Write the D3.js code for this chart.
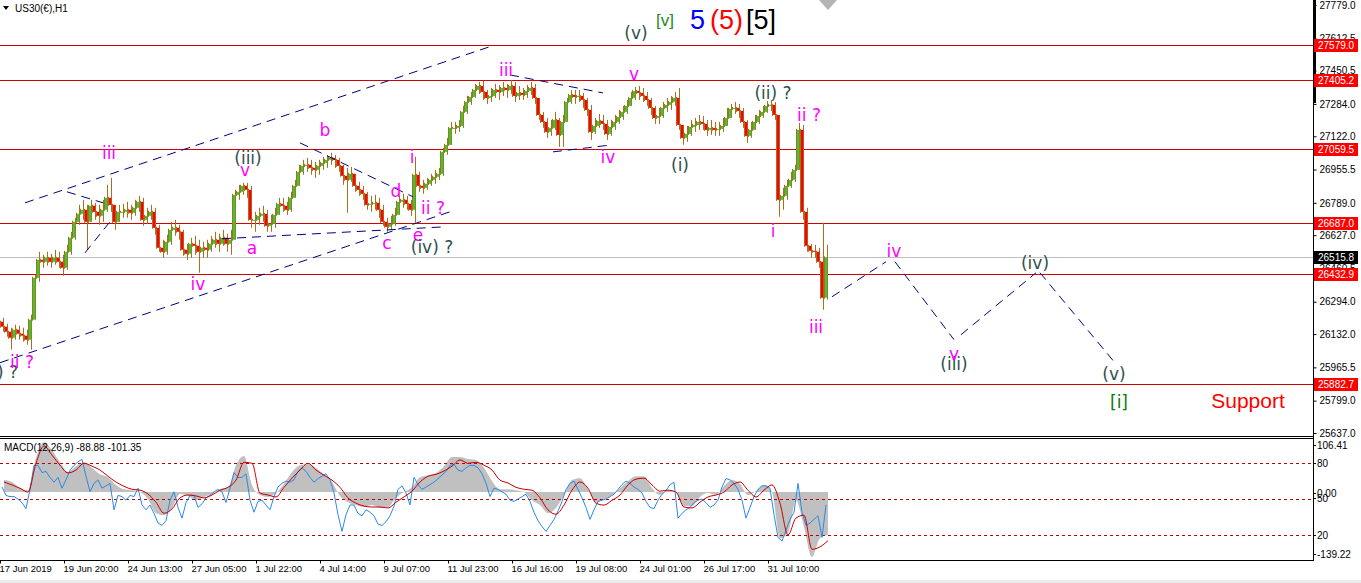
<!DOCTYPE html>
<html><head><meta charset="utf-8">
<script src="https://cdn.jsdelivr.net/npm/d3@7"></script>
<style>body{margin:0;background:#fff;overflow:hidden}svg{display:block}</style>
</head><body>
<svg id="c" width="1361" height="583"></svg>
<script>
// ---- price data (H1 bars, aggregated 4 bars per sample) ----
const barsPerSample = 4;
const firstOpen = 26194;
const closes = [26169,26144,26114,26154,26134,26124,26104,26204,26414,26504,
26494,26514,26494,26514,26494,26464,26544,26614,26694,26734,
26754,26694,26774,26744,26724,26754,26814,26779,26694,26744,
26744,26754,26739,26764,26794,26704,26724,26744,26664,26564,
26544,26594,26654,26664,26644,26554,26534,26584,26574,26544,
26564,26554,26584,26604,26584,26614,26584,26604,26829,26844,
26874,26854,26704,26704,26724,26734,26674,26684,26729,26784,
26774,26754,26814,26874,26944,26974,26979,26964,26954,26974,
26989,27004,27014,27004,26974,26924,26904,26934,26874,26854,
26834,26779,26784,26789,26754,26694,26669,26684,26729,26794,
26804,26784,26754,26929,26874,26864,26884,26904,26919,26934,
27044,27079,27164,27164,27174,27244,27294,27319,27354,27374,
27344,27314,27324,27354,27344,27364,27354,27374,27324,27339,
27329,27349,27364,27314,27229,27194,27144,27164,27204,27129,
27194,27294,27329,27319,27324,27304,27254,27144,27174,27199,
27184,27134,27169,27194,27219,27244,27274,27314,27349,27339,
27324,27304,27264,27214,27224,27264,27279,27294,27314,27179,
27114,27134,27169,27179,27194,27184,27154,27164,27154,27159,
27174,27214,27259,27264,27249,27194,27124,27154,27194,27224,
27244,27274,27279,27229,26804,26824,26874,26904,26954,27154,
26744,26574,26549,26544,26494,26314,26516];
const highs = [26214,26184,26164,26179,26174,26164,26154,26229,26429,26544,
26529,26544,26534,26554,26544,26529,26579,26644,26714,26779,
26804,26779,26804,26789,26779,26804,26879,26914,26779,26779,
26784,26794,26779,26804,26824,26814,26764,26779,26764,26679,
26604,26629,26694,26704,26679,26654,26584,26614,26624,26604,
26594,26604,26624,26644,26634,26654,26634,26654,26854,26879,
26889,26889,26874,26744,26764,26774,26754,26729,26764,26814,
26814,26794,26844,26904,26979,27004,27014,27004,26994,27004,
27019,27029,27039,27029,27014,26979,26964,26969,26929,26894,
26874,26844,26824,26829,26814,26779,26714,26724,26764,26824,
26834,26824,26804,27019,26944,26904,26914,26934,26954,26964,
27064,27114,27194,27194,27204,27274,27324,27344,27384,27394,
27399,27354,27364,27384,27379,27394,27384,27404,27394,27374,
27364,27379,27394,27384,27304,27244,27214,27204,27244,27214,
27229,27314,27354,27354,27354,27339,27314,27279,27214,27234,
27229,27204,27204,27229,27254,27274,27304,27344,27369,27374,
27364,27344,27314,27274,27264,27294,27314,27324,27344,27364,
27179,27174,27204,27214,27229,27224,27204,27204,27194,27194,
27214,27264,27284,27294,27284,27264,27204,27194,27229,27254,
27274,27299,27304,27294,27229,26864,26904,26944,26979,27189,
27179,26764,26584,26579,26564,26689,26579];
const lows = [26144,26119,26054,26104,26104,26094,26079,26054,26254,26394,
26464,26474,26464,26479,26464,26424,26454,26529,26604,26679,
26704,26554,26729,26704,26679,26694,26744,26744,26654,26704,
26714,26714,26704,26724,26744,26674,26684,26704,26629,26544,
26514,26529,26579,26624,26604,26524,26504,26514,26529,26439,
26514,26514,26544,26564,26544,26574,26544,26529,26629,26804,
26829,26814,26664,26644,26679,26694,26644,26644,26664,26744,
26744,26729,26744,26824,26894,26929,26944,26929,26914,26929,
26954,26964,26979,26964,26944,26879,26739,26894,26844,26824,
26804,26754,26744,26754,26714,26674,26644,26654,26674,26744,
26764,26754,26724,26689,26844,26834,26854,26874,26884,26904,
26924,27029,27104,27134,27144,27164,27234,27279,27314,27334,
27304,27284,27294,27314,27304,27324,27314,27334,27294,27304,
27304,27314,27329,27284,27204,27164,27114,27124,27154,27069,
27069,27194,27284,27284,27294,27264,27224,27104,27134,27164,
27154,27104,27124,27154,27184,27204,27234,27274,27304,27304,
27294,27274,27229,27184,27184,27214,27244,27254,27274,27154,
27079,27094,27124,27144,27154,27154,27124,27129,27124,27124,
27144,27174,27224,27234,27214,27164,27089,27114,27154,27184,
27214,27239,27249,27204,26719,26754,26804,26864,26894,26964,
26704,26544,26514,26514,26464,26254,26304];

// ---- axis ticks ----
const priceTicks = [27779.0,27612.5,27450.5,27284.0,27122.0,26955.5,26789.0,26627.0,26460.5,26294.0,26132.0,25965.5,25799.0,25637.0];
const levelLines = [27579.0,27405.2,27059.5,26687.0,26432.9,25882.7];
const bidPrice = 26515.8;
const timeTickBars = [0,64,128,192,256,320,384,448,512,576,640,704,768];
const timeTickLabels = ["17 Jun 2019","19 Jun 20:00","24 Jun 13:00","27 Jun 05:00","1 Jul 22:00","4 Jul 14:00","9 Jul 07:00","11 Jul 23:00","16 Jul 16:00","19 Jul 08:00","24 Jul 01:00","26 Jul 17:00","31 Jul 10:00"];

// ---- MACD panel (8 bars per sample) ----
const macdStep = 8;
const macdMain = [25,21,8,4,71,104,87,62,42,54,
62,50,37,31,15,6,4,0,-15,-44,
-48,-33,-4,-8,-17,-10,-4,6,10,56,
75,15,-6,-10,-2,17,42,56,58,50,
37,21,-8,-21,-27,-31,-27,-33,-31,-12,
0,10,31,35,40,54,73,73,69,67,
50,23,6,6,4,0,-17,-27,-44,-33,
-6,25,29,6,-21,-15,-6,8,23,33,
33,8,-6,4,0,-29,-29,-10,-2,-6,
12,25,17,-6,2,15,0,-96,-85,-17,
-73,-135,-96,-89];
const macdSignal = [21,15,8,0,60,96,77,56,40,46,
60,54,46,33,21,12,6,4,-4,-21,
-44,-35,-12,-6,-8,-12,-6,4,10,25,
62,60,-2,-6,-10,10,29,46,60,46,
35,25,10,-12,-23,-29,-31,-31,-33,-21,
-10,2,21,33,37,44,54,67,60,62,
56,46,25,19,10,6,4,-12,-37,-46,
-27,4,21,8,-23,-27,-17,-6,15,27,
29,15,2,4,0,-31,-33,-21,-10,-6,
0,15,21,4,-10,4,15,-23,-89,-54,
-48,-119,-114,-101];
const macdRange = [-139.22,106.41];
// oscillator overlay (4 bars per sample), 0..100
const osc = [60,53,52,52,50,47,42,58,78,78,
72,73,68,64,68,59,66,74,78,81,
83,69,56,63,66,59,61,63,41,53,
52,49,53,52,59,45,41,45,38,30,
28,32,49,56,43,34,47,53,53,43,
46,51,53,56,58,56,47,59,72,68,
68,71,49,39,48,49,45,41,52,60,
63,65,64,66,73,76,73,68,64,67,
69,71,66,55,37,23,37,45,45,38,
36,41,39,36,29,28,31,36,44,58,
61,55,45,68,62,58,60,62,64,67,
70,73,78,79,74,73,76,78,78,76,
71,63,52,59,58,56,54,49,48,50,
52,54,48,39,32,27,23,28,33,40,
48,58,63,65,58,51,43,33,41,48,
49,50,52,54,58,62,65,63,60,58,
55,48,43,42,49,54,57,62,64,34,
38,41,43,47,49,50,47,43,45,49,
60,67,66,63,58,49,34,43,52,58,
61,61,59,37,18,15,24,33,39,63,
39,28,30,33,36,18,45];
const oscLevels = [80,50,20];

// ---- annotations (text, colour key, bar index, price, anchor) ----
const waveLabels = [
 ["iii","m",109,27039,"middle"],["(ii) ?","d",18,25944,"end"],["ii ?","m",22,25994,"middle"],["iv","m",198,26384,"middle"],
 ["(iii)","d",248,27014,"middle"],["v","m",245,26954,"middle"],["a","m",252,26564,"middle"],["b","m",325,27154,"middle"],
 ["c","m",387,26589,"middle"],["d","m",396,26849,"middle"],["e","m",418,26629,"middle"],["(iv) ?","d",432,26569,"middle"],
 ["ii ?","m",433,26764,"middle"],["i","m",412,27019,"middle"],["iii","m",506,27454,"middle"],["(v)","d",636,27639,"middle"],
 ["v","m",634,27434,"middle"],["iv","m",608,27019,"middle"],["(i)","d",680,26979,"middle"],["(ii) ?","d",773,27339,"middle"],
 ["ii ?","m",809,27229,"middle"],["i","m",773,26649,"middle"],["iii","m",816,26169,"middle"],["iv","m",894,26549,"middle"],
 ["(iii)","d",954,25984,"middle"],["v","m",954,26034,"middle"],["(iv)","d",1035,26489,"middle"],["(v)","d",1114,25934,"middle"],
 ["[i]","g",1119,25794,"middle"]
];
const trendLines = [
 [25,26789,492,27574],[0,25989,450,26744],[67,26844,103,26789],[85,26539,110,26694],
 [222,26609,445,26669],[300,27089,413,26819],[510,27429,603,27339],[553,27044,612,27079],
 [832,26319,886,26494],[895,26494,954,26104],[961,26129,1036,26439],[1040,26439,1114,25994]
];

const colors = {m:"#ff00ff", d:"#2f4f4f", g:"#0a7a0a", r:"#ff0000"};
const svg = d3.select("#c");
const W = 1313;
const x = d3.scaleLinear().domain([0, W]).range([0, W]);
const y = d3.scaleLinear().domain([25637, 27779]).range([433, 5]);
const yM = d3.scaleLinear().domain(macdRange).range([559, 441]);
const yO = d3.scaleLinear().domain([0, 100]).range([559, 439]);
const crisp = v => Math.round(v) + 0.5;

const defs = svg.append("defs");
defs.append("clipPath").attr("id","cm").append("rect").attr("x",0).attr("y",0).attr("width",W).attr("height",436);
defs.append("clipPath").attr("id","cs").append("rect").attr("x",0).attr("y",440).attr("width",W).attr("height",120);

const main = svg.append("g").attr("clip-path","url(#cm)");
main.append("line").attr("x1",0).attr("x2",W).attr("y1",crisp(y(bidPrice))).attr("y2",crisp(y(bidPrice))).attr("stroke","#c0c0c0");
main.selectAll(".lvl").data(levelLines).join("line").attr("x1",0).attr("x2",W)
  .attr("y1",d=>crisp(y(d))).attr("y2",d=>crisp(y(d))).attr("stroke","#d40000");

// candles
const wick = "#a8701e";
closes.forEach((c,i)=>{
  const o = i ? closes[i-1] : firstOpen;
  const hi = Math.max(highs[i],o,c), lo = Math.min(lows[i],o,c);
  const x0 = x(i*barsPerSample);
  main.append("line").attr("x1",x0+3.5).attr("x2",x0+3.5).attr("y1",y(hi)).attr("y2",y(lo)).attr("stroke",wick);
  main.append("line").attr("x1",x0+0.5).attr("x2",x0+0.5).attr("y1",y(Math.max(o,c))-1).attr("y2",y(Math.min(o,c))+1).attr("stroke",wick);
  const top = y(Math.max(o,c)), bot = y(Math.min(o,c));
  main.append("rect").attr("x",x0+1).attr("width",2.2).attr("y",top).attr("height",Math.max(1,bot-top))
    .attr("fill", c>=o ? "#33cc33" : "#ff0000");
});

// trend lines
main.selectAll(".tl").data(trendLines).join("line")
  .attr("x1",d=>x(d[0])).attr("y1",d=>y(d[1])).attr("x2",d=>x(d[2])).attr("y2",d=>y(d[3]))
  .attr("stroke","#000080").attr("stroke-width",1).attr("stroke-dasharray","9,6");

// wave labels
main.selectAll(".wl").data(waveLabels).join("text")
  .attr("x",d=>x(d[2])).attr("y",d=>y(d[3])).attr("dy","0.35em").attr("text-anchor",d=>d[4])
  .attr("font-family","DejaVu Sans, sans-serif").attr("font-size",17).attr("fill",d=>colors[d[1]]).text(d=>d[0]);
main.append("text").attr("x",x(1248)).attr("y",y(25799)).attr("dy","0.35em").attr("text-anchor","middle")
  .attr("font-family","Liberation Sans, Arial, sans-serif").attr("font-size",21).attr("fill","#ff0000").text("Support");

// header
const hdr = [["[v]","#1e8c1e",656,26,17],["5","#0000ff",690,29,27],["(5)","#ff0000",710,29,27],["[5]","#000000",746,29,27]];
svg.selectAll(".hd").data(hdr).join("text").attr("x",d=>d[2]).attr("y",d=>d[3]).attr("font-size",d=>d[4])
  .attr("font-family","Liberation Sans, Arial, sans-serif").attr("fill",d=>d[1]).text(d=>d[0]);
svg.append("path").attr("d","M3,6 L9,6 L6,10 Z").attr("fill","#000");
svg.append("text").attr("x",15).attr("y",11.5).attr("font-size",10).attr("font-family","Liberation Sans, Arial, sans-serif").text("US30(€),H1");
svg.append("path").attr("d","M819,0 L837,0 L828,10 Z").attr("fill","#b4b4b4");

// MACD panel
const sub = svg.append("g").attr("clip-path","url(#cs)");
const area = d3.area().x((d,i)=>x(i*macdStep+macdStep/2)).y0(yM(0)).y1(d=>yM(d)).curve(d3.curveMonotoneX);
sub.append("path").datum(macdMain).attr("d",area).attr("fill","#c0c0c0");
sub.selectAll(".ol").data(oscLevels).join("line").attr("x1",0).attr("x2",W)
  .attr("y1",d=>crisp(yO(d))).attr("y2",d=>crisp(yO(d))).attr("stroke","#c00000").attr("stroke-dasharray","3,3");
sub.append("path").datum(osc).attr("d",d3.line().x((d,i)=>x(i*barsPerSample+2)).y(d=>yO(d)))
  .attr("fill","none").attr("stroke","#2a8ae8").attr("stroke-width",1);
sub.append("path").datum(macdSignal).attr("d",d3.line().x((d,i)=>x(i*macdStep+macdStep/2)).y(d=>yM(d)).curve(d3.curveMonotoneX))
  .attr("fill","none").attr("stroke","#cc0000").attr("stroke-width",1);
svg.append("text").attr("x",4).attr("y",451).attr("font-size",10).attr("font-family","Liberation Sans, Arial, sans-serif")
  .text("MACD(12,26,9) -88.88 -101.35");

// frames
svg.append("line").attr("x1",0).attr("x2",W).attr("y1",436.5).attr("y2",436.5).attr("stroke","#000");
svg.append("line").attr("x1",0).attr("x2",W).attr("y1",438.5).attr("y2",438.5).attr("stroke","#000");
svg.append("line").attr("x1",0).attr("x2",W).attr("y1",560.5).attr("y2",560.5).attr("stroke","#000");
svg.append("line").attr("x1",W+0.5).attr("x2",W+0.5).attr("y1",0).attr("y2",561).attr("stroke","#000");
svg.append("rect").attr("x",W).attr("y",0).attr("width",3).attr("height",103).attr("fill","#000");
svg.append("rect").attr("x",0).attr("y",580).attr("width",1361).attr("height",3).attr("fill","#ececec");

// price axis
const ya = svg.append("g").attr("transform",`translate(${W+0.5},0)`)
  .call(d3.axisRight(y).tickValues(priceTicks).tickFormat(d3.format(".1f")).tickSize(3).tickPadding(3));
ya.select(".domain").remove();
ya.selectAll("text").attr("font-family","Liberation Sans, Arial, sans-serif").attr("font-size",10).attr("fill","#000");
ya.selectAll("line").attr("stroke","#000");
const boxes = levelLines.map(v=>[v,"#ff0000"]).concat([[bidPrice,"#000000"]]);
const bg = svg.append("g");
boxes.forEach(([v,col])=>{
  const yy = Math.round(y(v));
  bg.append("rect").attr("x",W+1).attr("y",yy-6).attr("width",44).attr("height",13).attr("fill",col);
  bg.append("text").attr("x",W+5).attr("y",yy).attr("dy","0.35em").attr("font-size",10)
    .attr("font-family","Liberation Sans, Arial, sans-serif").attr("fill","#fff").text(d3.format(".1f")(v));
});
const mLabels = [[yM(macdRange[1])+4,"106.41"],[yO(80),"80"],[yM(0)+1,"0.00"],[yO(50)-1,"50"],[yO(20),"20"],[yM(macdRange[0])-5,"-139.22"]];
svg.selectAll(".ml").data(mLabels).join("text").attr("x",W+4).attr("y",d=>d[0]).attr("dy","0.35em")
  .attr("font-size",10).attr("font-family","Liberation Sans, Arial, sans-serif").text(d=>d[1]);
svg.selectAll(".mt").data(mLabels).join("line").attr("x1",W).attr("x2",W+3).attr("y1",d=>crisp(d[0])).attr("y2",d=>crisp(d[0])).attr("stroke","#000");

// time axis
const xa = svg.append("g").attr("transform","translate(0,560.5)")
  .call(d3.axisBottom(x).tickValues(timeTickBars).tickFormat((d,i)=>timeTickLabels[i]).tickSize(3).tickPadding(2));
xa.select(".domain").remove();
xa.selectAll("text").attr("text-anchor","start").attr("dx","-1").attr("font-family","Liberation Sans, Arial, sans-serif").attr("font-size",9.5).attr("fill","#000");
xa.selectAll("line").attr("stroke","#000");
</script>
</body></html>
